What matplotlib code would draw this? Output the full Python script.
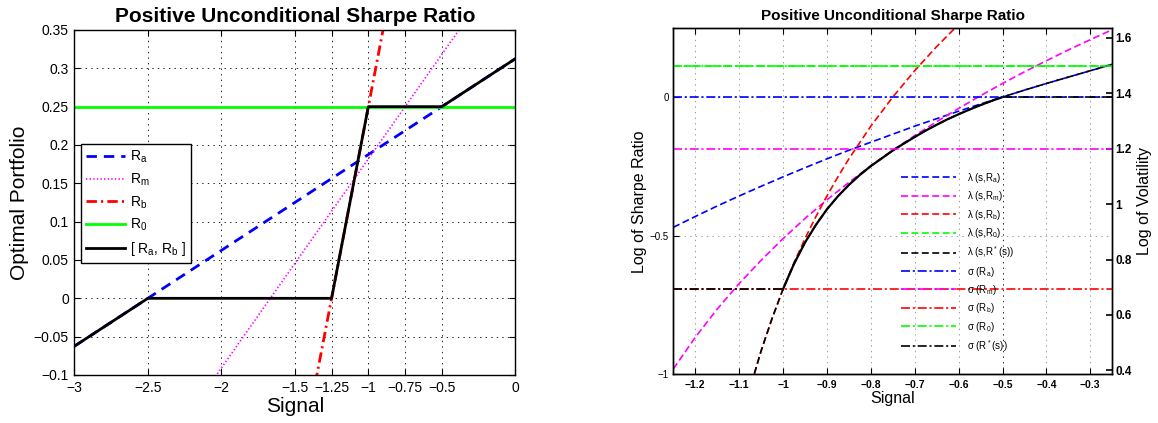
import matplotlib
matplotlib.use("Agg")
import matplotlib.pyplot as plt
import numpy as np
from matplotlib.ticker import FuncFormatter

plt.rcParams['font.family'] = ['Liberation Sans', 'DejaVu Sans']
plt.rcParams['mathtext.default'] = 'regular'
plt.rcParams['mathtext.fontset'] = 'custom'
plt.rcParams['mathtext.rm'] = 'Liberation Sans'
plt.rcParams['lines.scale_dashes'] = False

# ---------------- Left panel data ----------------
sig_left = [-3.0, 0.0]
port_Ra = [-0.0625, 0.3125]
port_Rm = [-0.3636, 0.4545]
port_Rb = [-1.75, 1.25]
port_R0 = [0.25, 0.25]
kink_s = [-3.0, -2.5, -1.25, -1.0, -0.5, 0.0]
kink_port = [-0.0625, 0.0, 0.0, 0.25, 0.25, 0.3125]
left_xticks = [-3, -2.5, -2, -1.5, -1.25, -1, -0.75, -0.5, 0]
left_yticks = [-0.1, -0.05, 0, 0.05, 0.1, 0.15, 0.2, 0.25, 0.3, 0.35]

# ---------------- Right panel data ----------------
s_grid = [-1.25, -1.2, -1.15, -1.1, -1.05, -1.0, -0.95, -0.9, -0.85, -0.8, -0.75,
          -0.7, -0.65, -0.6, -0.55, -0.5, -0.45, -0.4, -0.35, -0.3, -0.25]
lam_a = [-0.470, -0.431, -0.393, -0.357, -0.322, -0.288, -0.255, -0.223, -0.192, -0.163,
         -0.134, -0.105, -0.078, -0.051, -0.025, 0.0, 0.025, 0.049, 0.072, 0.095, 0.118]
lam_m = [-0.981, -0.867, -0.765, -0.673, -0.589, -0.511, -0.438, -0.371, -0.308, -0.248,
         -0.192, -0.139, -0.089, -0.041, 0.005, 0.049, 0.091, 0.131, 0.170, 0.207, 0.243]
s_b = [-1.1, -1.075, -1.05, -1.025, -1.0, -0.975, -0.95, -0.925, -0.9, -0.875, -0.85,
       -0.8, -0.75, -0.7, -0.65, -0.6]
lam_b = [-1.204, -1.050, -0.916, -0.799, -0.693, -0.598, -0.511, -0.431, -0.357, -0.288,
         -0.223, -0.105, 0.0, 0.095, 0.182, 0.262]
lam_0 = [0.112, 0.112]
s_star = [-1.1, -1.075, -1.05, -1.025, -1.0, -0.975, -0.95, -0.925, -0.9, -0.875, -0.85,
          -0.825, -0.8, -0.775, -0.75, -0.725, -0.7, -0.675, -0.65, -0.625, -0.6, -0.575,
          -0.55, -0.525, -0.5, -0.45, -0.4, -0.35, -0.3, -0.25]
lam_star = [-1.204, -1.050, -0.916, -0.799, -0.693, -0.602, -0.525, -0.461, -0.405, -0.358,
            -0.317, -0.281, -0.249, -0.221, -0.193, -0.168, -0.144, -0.121, -0.100, -0.080,
            -0.062, -0.045, -0.029, -0.014, 0.0, 0.025, 0.049, 0.072, 0.095, 0.118]
s_range = [-1.25, -0.25]
sig_a = 1.386
sig_m = 1.198
sig_b = 0.693
sig_0 = 1.498
s_sig_star = [-1.25, -1.0, np.nan, -0.5, -0.25]
sig_star = [0.693, 0.693, np.nan, 1.386, 1.386]
right_xticks = [-1.2, -1.1, -1.0, -0.9, -0.8, -0.7, -0.6, -0.5, -0.4, -0.3]
right_yticks_l = [-1, -0.5, 0]
right_yticks_r = [0.4, 0.6, 0.8, 1.0, 1.2, 1.4, 1.6]

BLUE, MAG, RED, GREEN, BLACK = (0, 0, 1), (1, 0, 1), (1, 0, 0), (0, 1, 0), (0, 0, 0)


def fmt(v, pos=None):
    s = '%g' % v
    return s.replace('-', '\u2212')


fig = plt.figure(figsize=(11.58, 4.23), dpi=100)

# ======== Left panel ========
ax = fig.add_axes([0.0642, 0.1135, 0.3808, 0.8156])
ax.plot(sig_left, port_Ra, color=BLUE, lw=2.0, dashes=(7.5, 5), label='R$_a$')
ax.plot(sig_left, port_Rm, color=MAG, lw=1.2, dashes=(1.0, 1.6), label='R$_m$')
ax.plot(sig_left, port_Rb, color=RED, lw=2.0, dashes=(7.5, 3, 1.5, 3), label='R$_b$')
ax.plot(sig_left, port_R0, color=GREEN, lw=2.0, label='R$_0$')
ax.plot(kink_s, kink_port, color=BLACK, lw=2.0, label='[ R$_a$, R$_b$ ]')
ax.set_xlim(-3, 0)
ax.set_ylim(-0.1, 0.35)
ax.set_xticks(left_xticks)
ax.set_yticks(left_yticks)
ax.xaxis.set_major_formatter(FuncFormatter(fmt))
ax.yaxis.set_major_formatter(FuncFormatter(fmt))
ax.tick_params(direction='in', labelsize=10, length=4, width=0.8, top=True, right=True, pad=4)
ax.grid(True, color='black', lw=0.6, linestyle=(0, (1, 3)))
for sp in ax.spines.values():
    sp.set_linewidth(1.0)
ax.set_title('Positive Unconditional Sharpe Ratio', fontsize=15, fontweight='bold', pad=6)
ax.set_xlabel('Signal', fontsize=15, labelpad=2)
ax.set_ylabel('Optimal Portfolio', fontsize=15, labelpad=3)
leg = ax.legend(loc='upper left', bbox_to_anchor=(0.016, 0.670), borderaxespad=0,
                fontsize=10, handlelength=2.8, handletextpad=0.35, labelspacing=0.46,
                borderpad=0.35, fancybox=False, edgecolor='black', framealpha=1)
leg.get_frame().set_linewidth(1.0)

# ======== Right panel ========
axr = fig.add_axes([0.5814, 0.1152, 0.3791, 0.8179])
ax2 = axr.twinx()
h = []
h += axr.plot(s_grid, lam_a, color=BLUE, lw=1.2, dashes=(5, 2.5), label=r'$\lambda$ (s,R$_a$)')
h += axr.plot(s_grid, lam_m, color=MAG, lw=1.2, dashes=(5, 2.5), label=r'$\lambda$ (s,R$_m$)')
h += axr.plot(s_b, lam_b, color=RED, lw=1.2, dashes=(5, 2.5), label=r'$\lambda$ (s,R$_b$)')
h += axr.plot(s_range, lam_0, color=GREEN, lw=1.2, dashes=(5, 2.5), label=r'$\lambda$ (s,R$_0$)')
h += axr.plot(s_star, lam_star, color=BLACK, lw=1.2, dashes=(5, 2.5), label=r'$\lambda$ (s,R$^*$(s))')
s_star_arr = np.array(s_star)
mid = (s_star_arr >= -1.0) & (s_star_arr <= -0.5)
axr.plot(s_star_arr[mid], np.array(lam_star)[mid], color=BLACK, lw=1.6, zorder=5,
         solid_joinstyle='round')

dd = (6.5, 2, 1.5, 2)
h += ax2.plot(s_range, [sig_a, sig_a], color=BLUE, lw=1.2, dashes=dd, label=r'$\sigma$ (R$_a$)')
h += ax2.plot(s_range, [sig_m, sig_m], color=MAG, lw=1.2, dashes=dd, label=r'$\sigma$ (R$_m$)')
h += ax2.plot(s_range, [sig_b, sig_b], color=RED, lw=1.2, dashes=dd, label=r'$\sigma$ (R$_b$)')
h += ax2.plot(s_range, [sig_0, sig_0], color=GREEN, lw=1.2, dashes=dd, label=r'$\sigma$ (R$_0$)')
h += ax2.plot(s_sig_star, sig_star, color=BLACK, lw=1.2, dashes=dd, label=r'$\sigma$ (R$^*$(s))')

axr.set_xlim(-1.25, -0.25)
axr.set_ylim(-1.0, 0.248)
ax2.set_ylim(0.386, 1.634)
axr.set_xticks(right_xticks)
axr.set_yticks(right_yticks_l)
ax2.set_yticks(right_yticks_r)
axr.xaxis.set_major_formatter(FuncFormatter(fmt))
axr.yaxis.set_major_formatter(FuncFormatter(fmt))
ax2.yaxis.set_major_formatter(FuncFormatter(fmt))
axr.tick_params(axis='x', direction='in', labelsize=7.5, length=4, width=0.8, top=True, pad=4)
for lab in axr.get_xticklabels():
    lab.set_fontweight('bold')
axr.tick_params(axis='y', direction='in', labelsize=7, length=4, width=0.8, pad=3)
ax2.tick_params(axis='y', direction='in', labelsize=8.5, length=4, width=1.2, pad=2)
for lab in ax2.get_yticklabels():
    lab.set_fontweight('bold')
axr.grid(True, color='0.55', lw=0.6, linestyle=(0, (1, 3)))
xgl = axr.get_xgridlines()
xgl[right_xticks.index(-0.5)].set_color('black')
for a in (axr, ax2):
    for sp in a.spines.values():
        sp.set_linewidth(1.0)
axr.set_title('Positive Unconditional Sharpe Ratio', fontsize=11, fontweight='bold', pad=6)
axr.set_xlabel('Signal', fontsize=11.5, labelpad=1)
axr.set_ylabel('Log of Sharpe Ratio', fontsize=11.5, labelpad=2)
ax2.set_ylabel('Log of Volatility', fontsize=11.5, labelpad=4)
leg2 = ax2.legend(handles=h, loc='upper left', bbox_to_anchor=(0.519, 0.588), borderaxespad=0,
                  borderpad=0, frameon=False, fontsize=7, handlelength=5.6,
                  handletextpad=1.2, labelspacing=0.45)

fig.savefig('out.png', dpi=100)
